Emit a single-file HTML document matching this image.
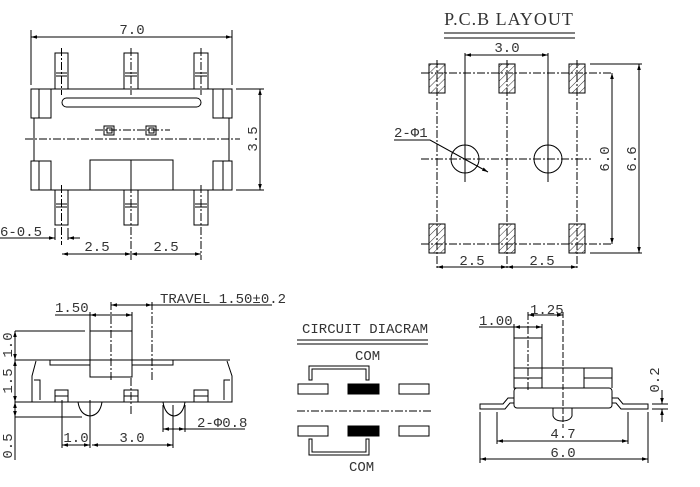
<!DOCTYPE html>
<html><head><meta charset="utf-8"><style>
html,body{margin:0;padding:0;background:#fff;}
svg{display:block}
text{font-family:"Liberation Mono","DejaVu Sans Mono",monospace;font-size:14px;fill:#333}
</style></head><body>
<svg width="700" height="487" viewBox="0 0 700 487" xmlns="http://www.w3.org/2000/svg">
<defs>
<marker id="a" viewBox="0 0 10 10" refX="10" refY="5" markerWidth="6" markerHeight="6" orient="auto-start-reverse"><path d="M0,2 L10,5 L0,8z" fill="#000"/></marker>
<pattern id="h" width="5" height="5" patternUnits="userSpaceOnUse" patternTransform="rotate(45)"><line x1="0" y1="0" x2="0" y2="5" stroke="#333" stroke-width="1"/></pattern>
</defs>
<g stroke="#000" stroke-width="1" fill="none">
<line x1="31" y1="37" x2="232" y2="37" marker-start="url(#a)" marker-end="url(#a)"/>
<line x1="31" y1="30" x2="31" y2="85"/><line x1="232" y1="30" x2="232" y2="85"/>
<rect x="55" y="53" width="13" height="36"/><rect x="124" y="53" width="14" height="36"/><rect x="194" y="53" width="14" height="36"/>
<rect x="55" y="190" width="13" height="35"/><rect x="124" y="190" width="14" height="35"/><rect x="194" y="190" width="14" height="35"/>
<g stroke-dasharray="8,2,2,2"><line x1="61.5" y1="48" x2="61.5" y2="95"/><line x1="131" y1="48" x2="131" y2="95"/><line x1="201" y1="48" x2="201" y2="95"/>
<line x1="61.5" y1="185" x2="61.5" y2="245"/><line x1="131" y1="185" x2="131" y2="260"/><line x1="201" y1="185" x2="201" y2="260"/>
<line x1="25" y1="139" x2="240" y2="139"/><line x1="95" y1="130" x2="170" y2="130"/></g>
<line x1="56" y1="73" x2="67" y2="73"/><line x1="56" y1="76" x2="67" y2="76"/><line x1="125" y1="73" x2="137" y2="73"/><line x1="125" y1="76" x2="137" y2="76"/><line x1="195" y1="73" x2="207" y2="73"/><line x1="195" y1="76" x2="207" y2="76"/>
<line x1="56" y1="204" x2="67" y2="204"/><line x1="56" y1="207" x2="67" y2="207"/><line x1="125" y1="204" x2="137" y2="204"/><line x1="125" y1="207" x2="137" y2="207"/><line x1="195" y1="204" x2="207" y2="204"/><line x1="195" y1="207" x2="207" y2="207"/>
<rect x="34" y="89" width="195" height="101"/>
<rect x="31" y="89" width="20" height="29" fill="#fff"/><line x1="39" y1="89" x2="39" y2="118"/>
<rect x="31" y="161" width="20" height="29" fill="#fff"/><line x1="39" y1="161" x2="39" y2="190"/>
<rect x="213" y="89" width="19" height="29" fill="#fff"/><line x1="223" y1="89" x2="223" y2="118"/>
<rect x="213" y="161" width="19" height="29" fill="#fff"/><line x1="223" y1="161" x2="223" y2="190"/>
<rect x="62" y="98" width="139" height="9" rx="4.5"/>
<rect x="104" y="126" width="10" height="9"/><rect x="107" y="128" width="5" height="5"/>
<rect x="146" y="126" width="10" height="9"/><rect x="149" y="128" width="5" height="5"/>
<rect x="90" y="160" width="83" height="30"/><line x1="131" y1="160" x2="131" y2="190"/>
<line x1="236" y1="89" x2="264" y2="89"/><line x1="236" y1="190" x2="264" y2="190"/>
<line x1="260" y1="89" x2="260" y2="190" marker-start="url(#a)" marker-end="url(#a)"/>
<line x1="0" y1="238" x2="54" y2="238"/><line x1="46" y1="238" x2="55" y2="238" marker-end="url(#a)"/><line x1="80" y1="238" x2="68" y2="238" marker-end="url(#a)"/>
<line x1="55" y1="228" x2="55" y2="240"/><line x1="68" y1="228" x2="68" y2="240"/>
<line x1="62" y1="254" x2="131" y2="254" marker-start="url(#a)" marker-end="url(#a)"/>
<line x1="131" y1="254" x2="201" y2="254" marker-start="url(#a)" marker-end="url(#a)"/>
<line x1="444" y1="33" x2="575" y2="33"/><line x1="444" y1="38" x2="575" y2="38"/>
<line x1="465" y1="55" x2="548" y2="55" marker-start="url(#a)" marker-end="url(#a)"/>
<line x1="465" y1="53" x2="465" y2="182"/><line x1="548" y1="53" x2="548" y2="182"/>
<g stroke-dasharray="8,2,2,2"><line x1="421" y1="73" x2="612" y2="73"/><line x1="421" y1="244" x2="612" y2="244"/><line x1="421" y1="159" x2="591" y2="159"/>
<line x1="437" y1="60" x2="437" y2="270"/><line x1="507" y1="60" x2="507" y2="270"/><line x1="577" y1="60" x2="577" y2="270"/></g>
<g fill="url(#h)"><rect x="429" y="64" width="16" height="29"/><rect x="499" y="64" width="16" height="29"/><rect x="569" y="64" width="16" height="29"/>
<rect x="429" y="224" width="16" height="29"/><rect x="499" y="224" width="16" height="29"/><rect x="569" y="224" width="16" height="29"/></g>
<circle cx="465" cy="159" r="14"/><circle cx="548" cy="159" r="14"/>
<polyline points="394,140 430,140 488,172" marker-end="url(#a)"/>
<line x1="590" y1="64" x2="642" y2="64"/><line x1="590" y1="253" x2="642" y2="253"/>
<line x1="612" y1="73" x2="612" y2="244" marker-start="url(#a)" marker-end="url(#a)"/>
<line x1="639" y1="64" x2="639" y2="253" marker-start="url(#a)" marker-end="url(#a)"/>
<line x1="437" y1="267" x2="507" y2="267" marker-start="url(#a)" marker-end="url(#a)"/>
<line x1="507" y1="267" x2="577" y2="267" marker-start="url(#a)" marker-end="url(#a)"/>
<line x1="111" y1="305" x2="152" y2="305" marker-start="url(#a)" marker-end="url(#a)"/><line x1="152" y1="305" x2="272" y2="305"/>
<line x1="55" y1="315" x2="90" y2="315"/><line x1="90" y1="315" x2="132" y2="315" marker-start="url(#a)" marker-end="url(#a)"/>
<line x1="90" y1="312" x2="90" y2="331"/><line x1="132" y1="312" x2="132" y2="331"/>
<g stroke-dasharray="8,2,2,2"><line x1="111" y1="302" x2="111" y2="380"/><line x1="152" y1="302" x2="152" y2="380"/><line x1="131" y1="378" x2="131" y2="415"/></g>
<rect x="90" y="331" width="42" height="46"/>
<polyline points="50,360 50,365 90,365"/><polyline points="132,365 173,365 173,360"/>
<line x1="15" y1="360" x2="230" y2="360"/>
<polyline points="36,361 32,376 32,402 232,402 232,376 227,361"/>
<polyline points="34,380 40,380 40,400"/><polyline points="230,380 224,380 224,400"/>
<line x1="15" y1="402" x2="34" y2="402"/>
<rect x="55" y="390" width="13" height="12"/><rect x="124" y="390" width="14" height="12"/><rect x="194" y="390" width="14" height="12"/>
<line x1="55" y1="396" x2="68" y2="396"/><line x1="124" y1="396" x2="138" y2="396"/><line x1="194" y1="396" x2="208" y2="396"/>
<path d="M78,402 Q80,415 90,416 Q100,415 102,402"/><path d="M163,402 Q165,415 174,416 Q183,415 185,402"/>
<line x1="15" y1="331" x2="85" y2="331"/><line x1="15" y1="417" x2="82" y2="417"/>
<line x1="15" y1="331" x2="15" y2="360" marker-start="url(#a)" marker-end="url(#a)"/>
<line x1="15" y1="360" x2="15" y2="402" marker-start="url(#a)" marker-end="url(#a)"/>
<line x1="15" y1="402" x2="15" y2="417" marker-start="url(#a)" marker-end="url(#a)"/>
<line x1="15" y1="417" x2="15" y2="460"/>
<line x1="62" y1="400" x2="62" y2="448"/><line x1="90" y1="400" x2="90" y2="448"/><line x1="173" y1="405" x2="173" y2="448"/><line x1="163" y1="405" x2="163" y2="432"/><line x1="185" y1="405" x2="185" y2="432"/>
<line x1="62" y1="445" x2="90" y2="445" marker-start="url(#a)" marker-end="url(#a)"/>
<line x1="92" y1="445" x2="173" y2="445" marker-start="url(#a)" marker-end="url(#a)"/>
<line x1="163" y1="429" x2="185" y2="429" marker-start="url(#a)" marker-end="url(#a)"/><line x1="185" y1="429" x2="245" y2="429"/>
<line x1="297" y1="340" x2="428" y2="340"/><line x1="297" y1="344" x2="428" y2="344"/>
<path d="M309,380 L309,366 L369,366 L369,380 L366,380 L366,369 L312,369 L312,380 Z"/>
<path d="M309,439 L309,455 L369,455 L369,439 L366,439 L366,452 L312,452 L312,439 Z"/>
<rect x="298" y="384" width="30" height="10"/><rect x="348" y="384" width="31" height="10" fill="#000"/><rect x="399" y="384" width="30" height="10"/>
<rect x="298" y="426" width="30" height="10"/><rect x="348" y="426" width="31" height="10" fill="#000"/><rect x="399" y="426" width="30" height="10"/>
<line x1="297" y1="411" x2="432" y2="411" stroke-dasharray="8,2,2,2"/>
<line x1="479" y1="327" x2="514" y2="327"/><line x1="514" y1="327" x2="542" y2="327" marker-start="url(#a)" marker-end="url(#a)"/>
<line x1="514" y1="324" x2="514" y2="338"/><line x1="542" y1="324" x2="542" y2="338"/>
<line x1="528" y1="315" x2="563" y2="315" marker-start="url(#a)" marker-end="url(#a)"/>
<line x1="528" y1="312" x2="528" y2="390" stroke-dasharray="8,2,2,2"/><line x1="563" y1="312" x2="563" y2="428" stroke-dasharray="6,2"/>
<rect x="514" y="338" width="28" height="50"/><line x1="514" y1="368" x2="612" y2="368"/><line x1="514" y1="378" x2="542" y2="378"/>
<polyline points="584,388 584,368 612,368 612,388"/><line x1="584" y1="378" x2="612" y2="378"/>
<rect x="514" y="388" width="98" height="20" rx="3"/>
<polyline points="514,398 508,398 503,404 480,404 480,409 505,409 510,403 514,403"/>
<polyline points="612,398 618,398 623,404 648,404 648,409 621,409 616,403 612,403"/>
<path d="M553,408 L553,416 Q555,421 562,421 Q570,421 572,416 L572,408"/>
<line x1="480" y1="412" x2="480" y2="463"/><line x1="648" y1="412" x2="648" y2="463"/>
<line x1="497" y1="412" x2="497" y2="444"/><line x1="628" y1="412" x2="628" y2="444"/>
<line x1="497" y1="441" x2="628" y2="441" marker-start="url(#a)" marker-end="url(#a)"/>
<line x1="480" y1="459" x2="648" y2="459" marker-start="url(#a)" marker-end="url(#a)"/>
<line x1="652" y1="404" x2="668" y2="404"/><line x1="652" y1="409" x2="668" y2="409"/>
<line x1="662" y1="390" x2="662" y2="404" marker-end="url(#a)"/><line x1="662" y1="422" x2="662" y2="409" marker-end="url(#a)"/>
</g>
<text x="132" y="34" text-anchor="middle">7.0</text>
<text transform="translate(257,139) rotate(-90)" text-anchor="middle">3.5</text>
<text x="0" y="236">6-0.5</text>
<text x="97" y="251" text-anchor="middle">2.5</text><text x="166" y="251" text-anchor="middle">2.5</text>
<text x="509" y="25" text-anchor="middle" style="font-family:'Liberation Serif',serif;font-size:18px;letter-spacing:1px">P.C.B LAYOUT</text>
<text x="507" y="52" text-anchor="middle">3.0</text>
<text x="394" y="137">2-Φ1</text>
<text transform="translate(609,159) rotate(-90)" text-anchor="middle">6.0</text>
<text transform="translate(636,159) rotate(-90)" text-anchor="middle">6.6</text>
<text x="472" y="265" text-anchor="middle">2.5</text><text x="542" y="265" text-anchor="middle">2.5</text>
<text x="160" y="303">TRAVEL 1.50±0.2</text>
<text x="55" y="312">1.50</text>
<text transform="translate(12,345) rotate(-90)" text-anchor="middle">1.0</text>
<text transform="translate(12,381) rotate(-90)" text-anchor="middle">1.5</text>
<text transform="translate(12,446) rotate(-90)" text-anchor="middle">0.5</text>
<text x="76" y="442" text-anchor="middle">1.0</text><text x="132" y="442" text-anchor="middle">3.0</text>
<text x="197" y="427">2-Φ0.8</text>
<text x="302" y="333">CIRCUIT DIACRAM</text>
<text x="355" y="360">COM</text><text x="349" y="471">COM</text>
<text x="479" y="325">1.00</text><text x="530" y="314">1.25</text>
<text x="563" y="438" text-anchor="middle">4.7</text><text x="563" y="457" text-anchor="middle">6.0</text>
<text transform="translate(659,380) rotate(-90)" text-anchor="middle">0.2</text>
</svg>
</body></html>
